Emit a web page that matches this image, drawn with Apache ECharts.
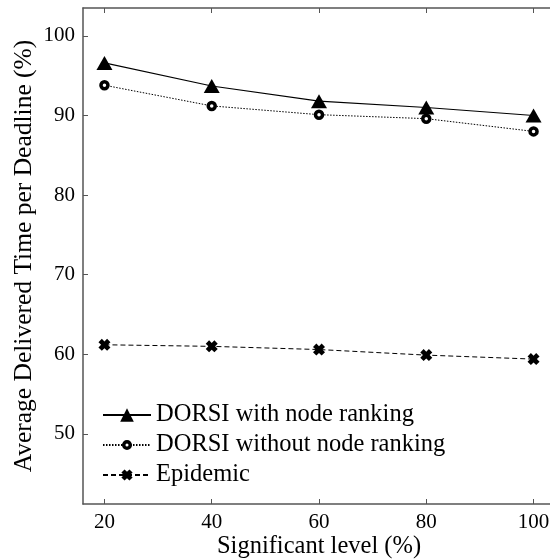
<!DOCTYPE html>
<html>
<head>
<meta charset="utf-8">
<script src="https://cdn.jsdelivr.net/npm/echarts@6/dist/echarts.min.js"></script>
<style>
  html, body { margin: 0; padding: 0; background: #fff; }
  #chart { width: 550px; height: 560px; }
</style>
</head>
<body>
<div id="chart"></div>
<script>
// Significant level (%) on the x axis
const levels = [20, 40, 60, 80, 100];
// Average delivered time per deadline (%)
const withRanking = [96.6, 93.7, 91.8, 91.0, 90.0];
const withoutRanking = [93.8, 91.2, 90.1, 89.6, 88.0];
const epidemic = [61.2, 61.0, 60.6, 59.9, 59.4];

const xTicks = [20, 40, 60, 80, 100];
const yTicks = [50, 60, 70, 80, 90, 100];

const seriesNames = ['DORSI with node ranking', 'DORSI without node ranking', 'Epidemic'];

const FONT = 'Liberation Serif';
const AXIS_COLOR = '#555';

// heavy "x" marker
const crossPath = 'path://M0,2.8 L2.8,0 L5,2.2 L7.2,0 L10,2.8 L7.8,5 L10,7.2 L7.2,10 L5,7.8 L2.8,10 L0,7.2 L2.2,5 Z';

function pairs(vals) {
  return levels.map((x, i) => [x, vals[i]]);
}

// one legend block per series so each key symbol gets its own size
function legendRow(name, top, itemHeight, itemStyle) {
  return {
    orient: 'vertical',
    left: 97, top: top,
    itemWidth: 48, itemHeight: itemHeight, itemGap: 0,
    itemStyle: itemStyle || {},
    textStyle: { fontFamily: FONT, fontSize: 24.5, color: '#000', lineHeight: 30 },
    data: [name]
  };
}

const chart = echarts.init(document.getElementById('chart'), null, { renderer: 'canvas' });

const axisLineStyle = { show: true, lineStyle: { color: AXIS_COLOR, width: 1.5 } };
const tickStyle = { lineStyle: { color: AXIS_COLOR, width: 1 } };

chart.setOption({
  animation: false,
  backgroundColor: '#fff',
  grid: { left: 83, top: 8, width: 472, height: 496, containLabel: false, outerBoundsMode: 'none' },
  xAxis: [
    {
      type: 'value', min: 16, max: 104, position: 'bottom',
      name: 'Significant level (%)', nameLocation: 'middle', nameGap: 30, nameMoveOverlap: false,
      nameTextStyle: { fontFamily: FONT, fontSize: 24.5, color: '#000' },
      axisLine: axisLineStyle,
      axisTick: Object.assign({ inside: true, length: 5, customValues: xTicks }, tickStyle),
      axisLabel: { customValues: xTicks, fontFamily: FONT, fontSize: 21, color: '#000', margin: 8 },
      splitLine: { show: false }
    },
    {
      type: 'value', min: 16, max: 104, position: 'top',
      axisLine: axisLineStyle,
      axisTick: Object.assign({ inside: true, length: 5, customValues: xTicks }, tickStyle),
      axisLabel: { show: false },
      splitLine: { show: false }
    }
  ],
  yAxis: [
    {
      type: 'value', min: 41.2, max: 103.5, position: 'left',
      name: 'Average Delivered Time per Deadline (%)', nameLocation: 'middle', nameGap: 46, nameMoveOverlap: false,
      nameTextStyle: { fontFamily: FONT, fontSize: 25.5, color: '#000' },
      axisLine: axisLineStyle,
      axisTick: Object.assign({ inside: true, length: 5, customValues: yTicks }, tickStyle),
      axisLabel: { customValues: yTicks, fontFamily: FONT, fontSize: 21, color: '#000', margin: 8 },
      splitLine: { show: false }
    },
    {
      type: 'value', min: 41.2, max: 103.5, position: 'right',
      axisLine: axisLineStyle,
      axisTick: Object.assign({ inside: true, length: 5, customValues: yTicks }, tickStyle),
      axisLabel: { show: false },
      splitLine: { show: false }
    }
  ],
  legend: [
    legendRow(seriesNames[0], 395, 17),
    legendRow(seriesNames[1], 425, 8.2, { borderWidth: 3.5, borderColor: '#000', color: '#fff' }),
    legendRow(seriesNames[2], 455, 14)
  ],
  series: [
    {
      name: seriesNames[0], type: 'line', data: pairs(withRanking),
      symbol: 'triangle', symbolSize: [16, 14],
      itemStyle: { color: '#000' },
      lineStyle: { color: '#000', width: 1.2, type: 'solid' },
      z: 3
    },
    {
      name: seriesNames[1], type: 'line', data: pairs(withoutRanking),
      symbol: 'circle', symbolSize: 7,
      itemStyle: { color: '#fff', borderColor: '#000', borderWidth: 3.5 },
      lineStyle: { color: '#000', width: 1, type: [1.5, 1.5] },
      z: 3
    },
    {
      name: seriesNames[2], type: 'line', data: pairs(epidemic),
      symbol: crossPath, symbolSize: 12,
      itemStyle: { color: '#000' },
      lineStyle: { color: '#000', width: 1, type: [5, 3] },
      z: 3
    }
  ]
});
</script>
</body>
</html>
